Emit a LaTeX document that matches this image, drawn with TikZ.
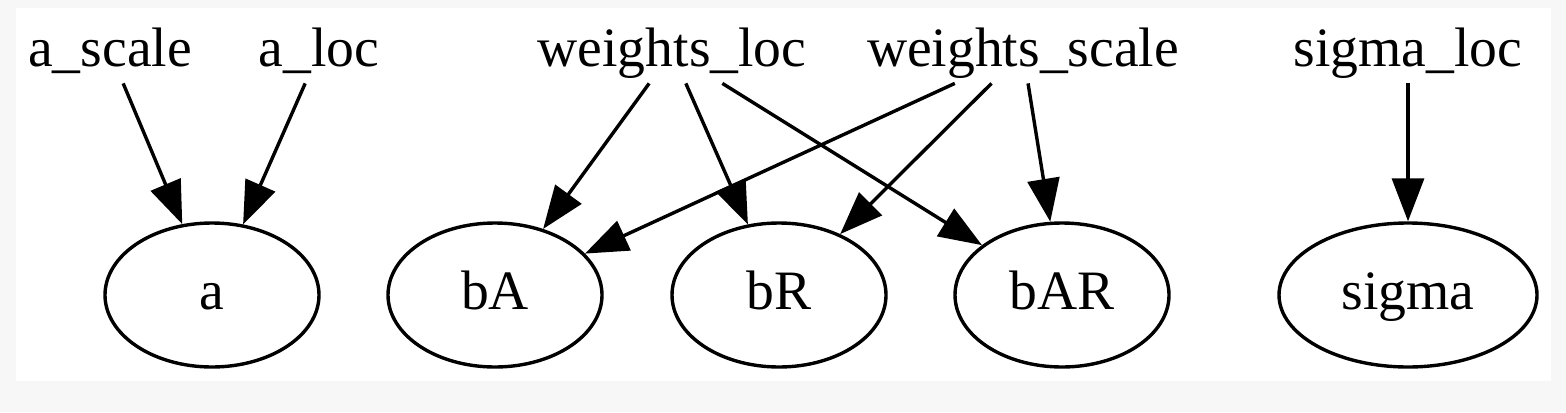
\documentclass[tikz,border=0pt]{standalone}
\usepackage{fontspec}
\setmainfont{Liberation Serif}
\usetikzlibrary{arrows.meta,shapes.geometric}
\definecolor{bgout}{RGB}{247,247,247}
\begin{document}
\begin{tikzpicture}[x=0.5pt,y=-0.5pt,
  lbl/.style={inner sep=0pt, minimum height=31pt, text height=14pt, text depth=0pt,
    font=\fontsize{27.8pt}{30pt}\selectfont},
  rv/.style={ellipse, draw, line width=1.7pt, inner sep=0pt, minimum width=107pt,
    minimum height=72pt, text height=14pt, text depth=0pt,
    font=\fontsize{27.8pt}{30pt}\selectfont},
  edge/.style={line width=1.7pt, -{Triangle[length=21.5pt,width=16pt]}}]
\useasboundingbox (0,0) rectangle (1566,412);
\fill[bgout] (0,0) rectangle (1566,412);
\fill[white] (16,8) rectangle (1551,381);
% parameter labels
\node[lbl] (ascale) at (110,52) {a\_scale};
\node[lbl] (aloc) at (319,52) {a\_loc};
\node[lbl] (wloc) at (672,52) {weights\_loc};
\node[lbl] (wscale) at (1023,52) {weights\_scale};
\node[lbl] (sloc) at (1408,52) {sigma\_loc};
% random variables
\node[rv] (a) at (212,295) {a};
\node[rv] (bA) at (495,295) {bA};
\node[rv] (bR) at (779,295) {bR};
\node[rv] (bAR) at (1062,295) {bAR};
\node[rv, minimum width=129pt] (sigma) at (1408,295) {sigma};
% edges
\draw[edge] (ascale) -- (a);
\draw[edge] (aloc) -- (a);
\draw[edge] (wloc) -- (bA);
\draw[edge] (wloc) -- (bR);
\draw[edge] (wloc) -- (bAR);
\draw[edge] (wscale) -- (bA);
\draw[edge] (wscale) -- (bR);
\draw[edge] (wscale) -- (bAR);
\draw[edge] (sloc) -- (sigma);
\end{tikzpicture}
\end{document}
